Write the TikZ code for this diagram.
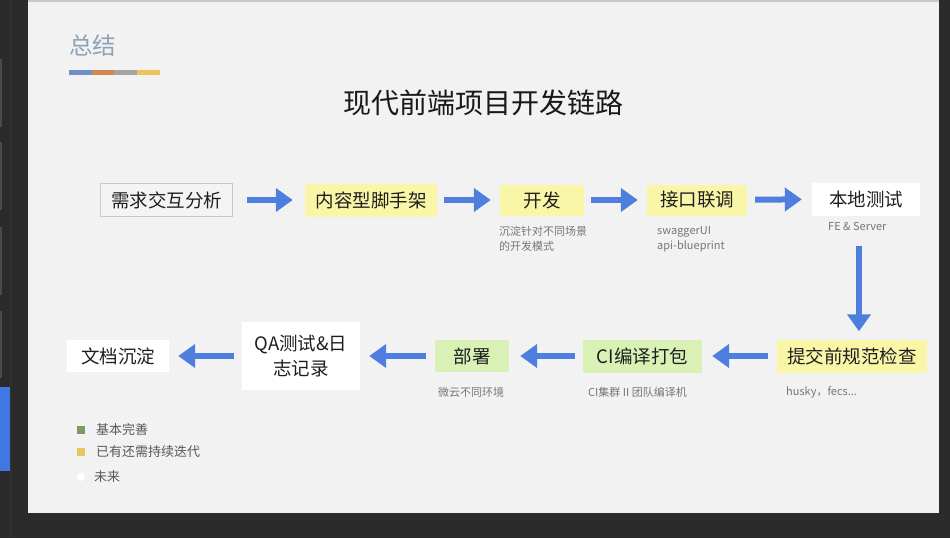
\documentclass[tikz,border=0pt]{standalone}
\usepackage{fontspec}
\setmainfont{Noto Sans CJK SC}
\usetikzlibrary{arrows.meta}
\definecolor{bgdark}{HTML}{2B2B2B}
\definecolor{stripline}{HTML}{343434}
\definecolor{thumb}{HTML}{4A4A4A}
\definecolor{sidebl}{HTML}{3F78E0}
\definecolor{slide}{HTML}{F2F2F2}
\definecolor{slidetop}{HTML}{C9C9C9}
\definecolor{titleblue}{HTML}{8DA2B8}
\definecolor{barblue}{HTML}{6F8FC8}
\definecolor{barorange}{HTML}{D08850}
\definecolor{bargray}{HTML}{A4A4A4}
\definecolor{baryellow}{HTML}{EDC45A}
\definecolor{ylw}{HTML}{FAF6A8}
\definecolor{grn}{HTML}{D9F1B5}
\definecolor{reqfill}{HTML}{F4F4F4}
\definecolor{reqborder}{HTML}{C8C8C8}
\definecolor{arrblue}{HTML}{4E7FDE}
\definecolor{notegray}{HTML}{767676}
\definecolor{lgreen}{HTML}{7E9A64}
\definecolor{lyellow}{HTML}{E3C85E}
\definecolor{legtext}{HTML}{585858}
\begin{document}
\begin{tikzpicture}[x=1pt,y=-1pt,
  box/.style={inner sep=0pt, minimum height=33pt, font=\fontsize{18.5}{22}\selectfont, text=black!88},
  ybox/.style={box, fill=ylw},
  gbox/.style={box, fill=grn},
  wbox/.style={box, fill=white},
  note/.style={anchor=west, inner sep=0pt, font=\fontsize{11}{15.5}\selectfont, text=notegray, align=left},
  legend/.style={anchor=west, inner sep=0pt, font=\fontsize{13}{16}\selectfont, text=legtext},
  arr/.style={draw=arrblue, line width=6pt, -{Triangle[length=17pt,width=23pt]}, shorten <=8pt, shorten >=10pt}]
\fill[bgdark] (0,0) rectangle (950,538);
\useasboundingbox (0,0) rectangle (950,538);
% left strip
\draw[stripline, line width=1pt] (10.5,0) -- (10.5,538);
\foreach \a/\b in {59/127,142/210,227/295,311/378}
  \fill[thumb] (0,\a) rectangle (1.5,\b);
\fill[sidebl] (0,387) rectangle (10,471);
% slide
\fill[slidetop] (28,0) rectangle (939,2);
\fill[slide] (28,2) rectangle (939,513);
% heading
\node[anchor=west, inner sep=0pt, font=\fontsize{23.5}{28}\selectfont, text=titleblue] (sum) at (69,46) {总结};
\fill[barblue] (69,70) rectangle (92,75);
\fill[barorange] (92,70) rectangle (114,75);
\fill[bargray] (114,70) rectangle (137,75);
\fill[baryellow] (137,70) rectangle (160,75);
\node[inner sep=0pt, font=\fontsize{28}{32}\selectfont, text=black!90] (main) at (483,103) {现代前端项目开发链路};
% row 1
\node[box, fill=reqfill, draw=reqborder, line width=1.3pt, minimum width=132pt] (req) at (166.5,200) {需求交互分析};
\node[ybox, minimum width=132pt] (scaf) at (371,200) {内容型脚手架};
\node[ybox, minimum width=84pt, minimum height=31pt] (dev) at (542,200) {开发};
\node[ybox, minimum width=100pt, minimum height=31pt] (api) at (697,200) {接口联调};
\node[wbox, minimum width=108pt] (local) at (866,199) {本地测试};
% row 2
\node[ybox, minimum width=150pt] (check) at (852,356) {提交前规范检查};
\node[gbox, minimum width=119pt] (ci) at (642.5,356) {CI编译打包};
\node[gbox, minimum width=74pt, minimum height=32pt] (deploy) at (472,356) {部署};
\node[wbox, minimum width=118pt, minimum height=68pt, align=center, font=\fontsize{18.5}{25}\selectfont] (qa) at (301,356) {QA测试\&日\\志记录};
\node[wbox, minimum width=102pt, minimum height=32pt] (doc) at (118,356) {文档沉淀};
% notes
\node[note] (n1) at (499,239) {沉淀针对不同场景\\的开发模式};
\node[note] (n2) at (657,239) {swaggerUI\\api-blueprint};
\node[note] (n3) at (828,226) {FE \& Server};
\node[note] (n4) at (786,392) {husky，fecs...};
\node[note] (n5) at (588,392) {CI集群 II 团队编译机};
\node[note] (n6) at (438,392) {微云不同环境};
% arrows
\draw[arr, shorten <=14pt, shorten >=12pt] (req) -- (scaf);
\draw[arr, shorten <=7pt, shorten >=9pt] (scaf) -- (dev);
\draw[arr, shorten <=7pt, shorten >=9pt] (dev) -- (api);
\draw[arr, shorten <=8pt, shorten >=10pt] (api) -- (local);
\coordinate (dn) at (859,0);
\draw[arr, shorten <=30pt, shorten >=8pt] (local.south -| dn) -- (check.north -| dn);
\draw[arr, shorten <=9pt, shorten >=10pt] (check) -- (ci);
\draw[arr, shorten <=8pt, shorten >=11pt] (ci) -- (deploy);
\draw[arr, shorten <=9pt, shorten >=9pt] (deploy) -- (qa);
\draw[arr, shorten <=8pt, shorten >=9pt] (qa) -- (doc);
% legend
\fill[lgreen] (77,426) rectangle (85,434);
\node[legend] (l1) at (96,430) {基本完善};
\fill[lyellow] (77,448) rectangle (85,456);
\node[legend] (l2) at (96,452) {已有还需持续迭代};
\fill[white] (81,477) circle (4pt);
\node[legend] (l3) at (94,477) {未来};
\end{tikzpicture}
\end{document}
